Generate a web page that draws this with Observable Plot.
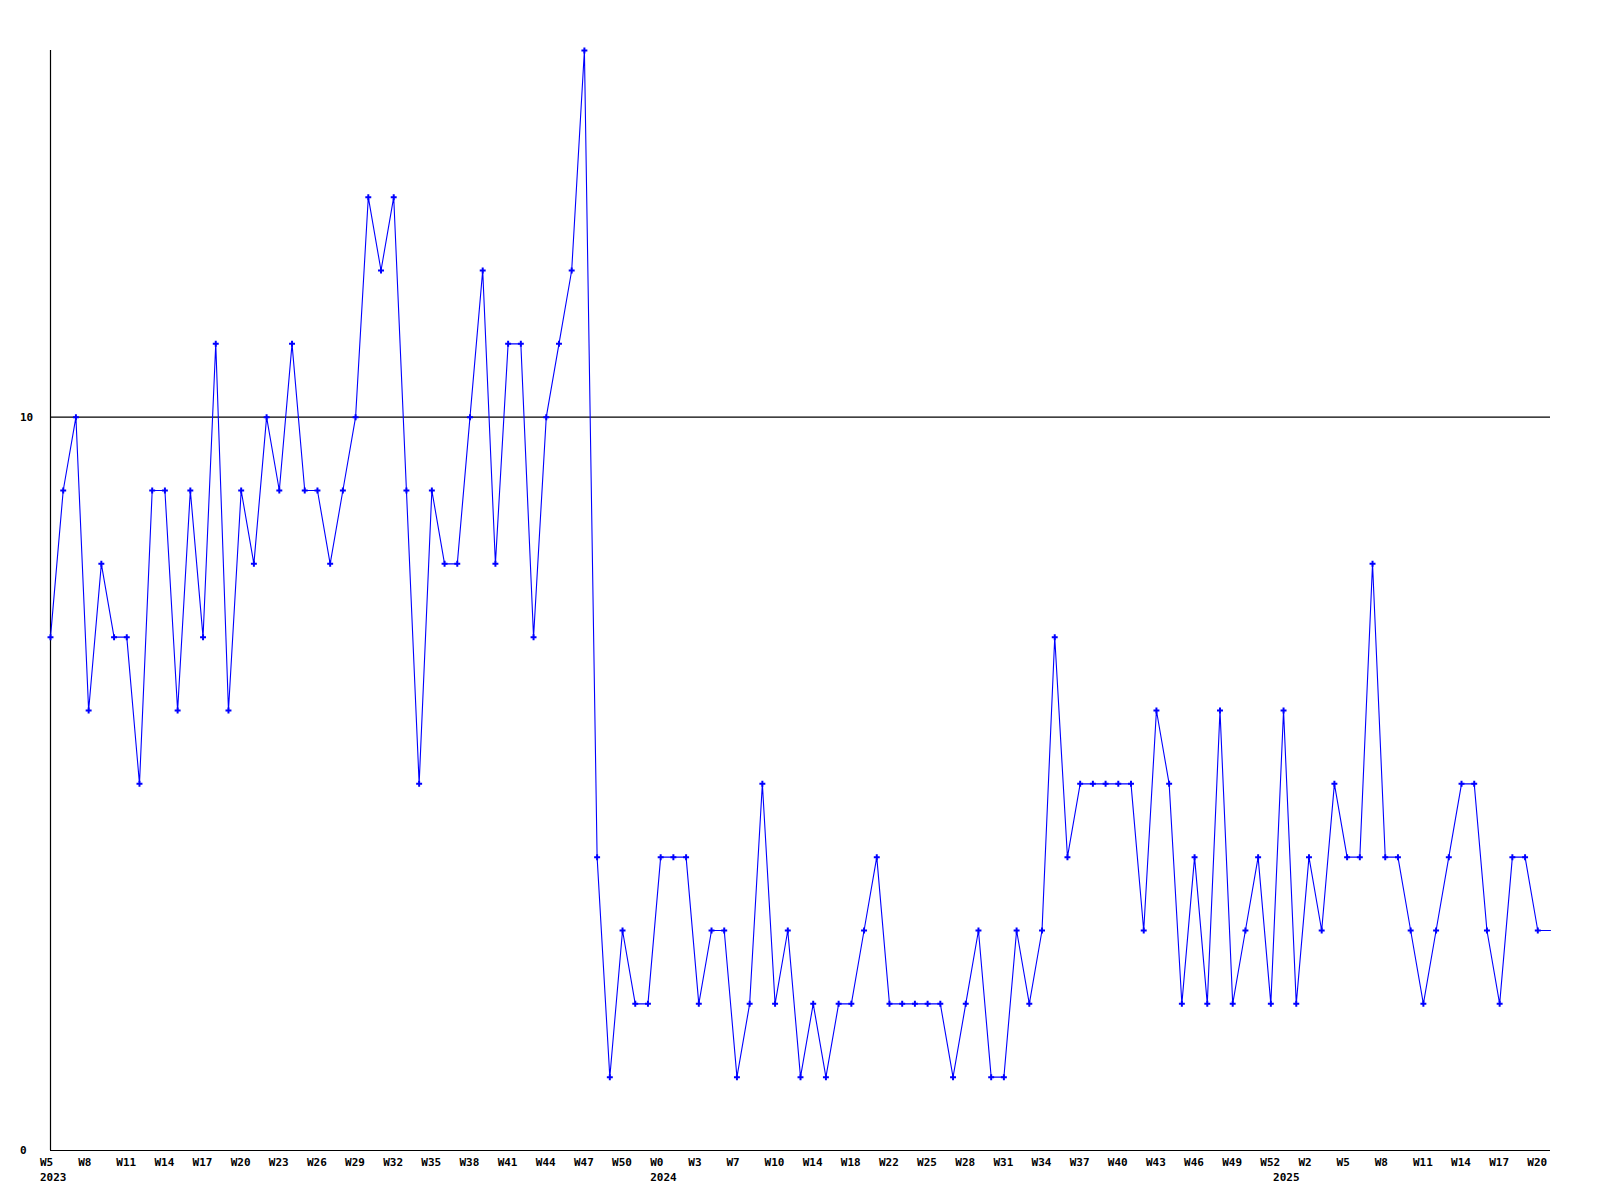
<!DOCTYPE html>
<html>
<head>
<meta charset="utf-8">
<script src="https://cdn.jsdelivr.net/npm/d3@7"></script>
<script src="https://cdn.jsdelivr.net/npm/@observablehq/plot@0.6"></script>
<style>
  html, body { margin: 0; padding: 0; background: #ffffff; }
  #chart svg { display: block; }
</style>
</head>
<body>
<div id="chart"></div>
<script>
// Weekly values, one per data point (sequential)
const values = [
  7, 9, 10, 6, 8, 7, 7, 5, 9, 9,
  6, 9, 7, 11, 6, 9, 8, 10, 9, 11,
  9, 9, 8, 9, 10, 13, 12, 13, 9, 5,
  9, 8, 8, 10, 12, 8, 11, 11, 7, 10,
  11, 12, 15, 4, 1, 3, 2, 2, 4, 4,
  4, 2, 3, 3, 1, 2, 5, 2, 3, 1,
  2, 1, 2, 2, 3, 4, 2, 2, 2, 2,
  2, 1, 2, 3, 1, 1, 3, 2, 3, 7,
  4, 5, 5, 5, 5, 5, 3, 6, 5, 2,
  4, 2, 6, 2, 3, 4, 2, 6, 2, 4,
  3, 5, 4, 4, 8, 4, 4, 3, 2, 3,
  4, 5, 5, 3, 2, 4, 4, 3, 3
];

// Week tick labels: one for every third data point
const weekTicks = [
  "W5", "W8", "W11", "W14", "W17", "W20", "W23", "W26", "W29", "W32", "W35", "W38", "W41", "W44", "W47", "W50",
  "W0", "W3", "W7", "W10", "W14", "W18", "W22", "W25", "W28", "W31", "W34", "W37", "W40", "W43", "W46", "W49", "W52",
  "W2", "W5", "W8", "W11", "W14", "W17", "W20"
];
const weekTickStep = 3;

// Year labels and the data point where each year begins
const yearLabels = ["2023", "2024", "2025"];
const yearStartIndex = [0, 48, 97];

// Y-axis tick values
const yTicks = [0, 10];

const points = values.map((v, i) => ({ i, v }));
const weekRows = weekTicks.map((t, k) => ({ i: k * weekTickStep, t }));
const yearRows = yearLabels.map((t, k) => ({ i: yearStartIndex[k], t }));

const blue = "#0000ff";

const chart = Plot.plot({
  width: 1600,
  height: 1200,
  marginLeft: 50,
  marginRight: 50,
  marginTop: 50,
  marginBottom: 50,
  x: { domain: [0, values.length - 1], axis: null },
  y: { domain: [0, 15], axis: null },
  style: {
    fontFamily: "'DejaVu Sans Mono', monospace",
    fontWeight: "bold",
    fontSize: "11px",
    background: "#ffffff",
    color: "#000000"
  },
  marks: [
    Plot.ruleY([10], { stroke: "#000000", strokeWidth: 1.2, style: "shape-rendering:crispEdges" }),
    Plot.ruleY([0], { stroke: "#000000", strokeWidth: 1.2, style: "shape-rendering:crispEdges" }),
    Plot.ruleX([0], { y1: 0, y2: 15, stroke: "#000000", strokeWidth: 1.2, style: "shape-rendering:crispEdges" }),
    Plot.line(points, { x: "i", y: "v", stroke: blue, strokeWidth: 1.1, style: "shape-rendering:crispEdges" }),
    Plot.dot(points.slice(0, -1), { x: "i", y: "v", symbol: "cross", r: 2.5, fill: blue, stroke: "none" }),
    Plot.text(weekRows, {
      x: "i", y: 0, text: "t", textAnchor: "start", dx: -10.5, dy: 12,
      fill: "#000000"
    }),
    Plot.text(yearRows, {
      x: "i", y: 0, text: "t", textAnchor: "start", dx: -10.5, dy: 27,
      fill: "#000000"
    }),
    Plot.text(yTicks, {
      x: 0, y: d => d, text: d => String(d), textAnchor: "start", dx: -30.5,
      fill: "#000000"
    })
  ]
});

document.getElementById("chart").appendChild(chart);
</script>
</body>
</html>
